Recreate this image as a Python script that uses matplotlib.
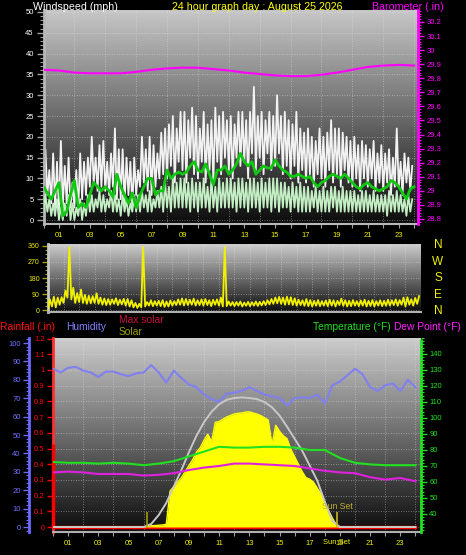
import numpy as np
import matplotlib
matplotlib.use('Agg')
import matplotlib.pyplot as plt
from matplotlib.ticker import MultipleLocator, FuncFormatter
import matplotlib.transforms as mtransforms

# ---------------- data ----------------
title = "24 hour graph day : August 25 2026"
hour_labels = ['01', '03', '05', '07', '09', '11', '13', '15', '17', '19', '21', '23']

# wind gust (mph), 15-minute low / high envelope
gust_hi = [17, 12, 16, 14, 19, 13, 15, 9, 12, 16, 14, 15, 20, 15, 18, 19,
           14, 16, 22, 17, 17, 15, 14, 15, 12, 20, 17, 20, 18, 16, 21, 22,
           23, 25, 22, 26, 26, 24, 27, 25, 22, 26, 23, 24, 27, 25, 26, 24,
           25, 23, 26, 26, 24, 26, 32, 25, 26, 24, 26, 25, 30, 25, 26, 24,
           23, 26, 22, 21, 22, 20, 19, 22, 20, 21, 24, 22, 22, 21, 20, 19,
           20, 18, 19, 18, 17, 19, 16, 18, 16, 17, 15, 22, 14, 16, 15, 13]
gust_lo = [8, 6, 4, 3, 2, 3, 4, 3, 3, 2, 5, 6, 8, 9, 7, 8,
           7, 6, 8, 5, 5, 4, 6, 3, 6, 8, 9, 7, 6, 8, 10, 11,
           10, 13, 9, 14, 12, 9, 15, 11, 10, 14, 9, 12, 9, 14, 11, 15,
           12, 10, 15, 13, 14, 10, 16, 12, 15, 11, 16, 12, 13, 16, 11, 13,
           10, 13, 9, 12, 9, 11, 8, 11, 10, 8, 12, 9, 11, 8, 12, 9,
           8, 10, 7, 10, 8, 10, 7, 9, 7, 9, 6, 8, 8, 6, 9, 7]
# wind speed (mph), 15-minute low / high envelope
wind_hi = [6, 5, 4, 5, 3, 4, 6, 4, 3, 5, 4, 6, 6, 5, 7, 6,
           5, 7, 6, 5, 6, 5, 4, 6, 6, 7, 6, 7, 5, 7, 8, 9,
           8, 10, 9, 10, 10, 9, 10, 9, 9, 10, 8, 10, 8, 10, 9, 10,
           10, 9, 10, 10, 9, 10, 10, 9, 10, 9, 10, 10, 10, 9, 9, 8,
           9, 8, 9, 8, 8, 7, 8, 7, 8, 7, 8, 8, 7, 8, 7, 7,
           7, 6, 7, 7, 6, 7, 6, 6, 6, 7, 6, 7, 6, 5, 6, 5]
wind_lo = [2, 2, 1, 1, 0, 0, 1, 0, 0, 1, 0, 1, 2, 2, 3, 2,
           2, 3, 2, 2, 1, 2, 1, 2, 2, 2, 3, 2, 2, 3, 3, 2,
           3, 2, 3, 3, 3, 3, 2, 3, 2, 3, 3, 2, 3, 2, 3, 3,
           3, 3, 2, 3, 3, 2, 3, 3, 2, 3, 3, 2, 3, 2, 3, 3,
           2, 3, 2, 2, 2, 2, 3, 2, 2, 2, 2, 3, 2, 2, 2, 2,
           2, 2, 2, 2, 2, 2, 2, 2, 2, 1, 2, 2, 2, 2, 1, 2]
# average wind speed (mph), every 15 minutes 00:00 .. 24:00
wind_avg = [8, 6.5, 5, 7, 9, 1, 2, 6, 9.5, 3, 4, 3, 6, 9, 8, 7,
            8, 7, 5.5, 11, 8, 6, 4, 6.5, 3, 6, 8, 10, 10, 6, 7, 7,
            12, 10, 11, 11.5, 11, 11.5, 13, 14, 12, 11.5, 13.5, 11, 8.5, 12, 12, 13,
            11, 12, 13.5, 16, 14, 13, 14, 11, 12, 13, 12.5, 12.5, 14.5, 13, 12, 11.5,
            10.5, 10.5, 11, 10.5, 10, 10.5, 9, 8, 9, 9.5, 10.5, 11, 10.5, 10, 11, 10,
            9, 8, 7.5, 8.5, 9, 8, 7.5, 7, 7.5, 8, 9.5, 9, 8, 6.5, 5, 7.5, 8]
# barometer (in), hourly 00 .. 24
baro = [29.86, 29.855, 29.84, 29.835, 29.835, 29.835, 29.845, 29.86, 29.87,
        29.875, 29.875, 29.865, 29.855, 29.84, 29.83, 29.82, 29.815, 29.815,
        29.825, 29.84, 29.86, 29.88, 29.89, 29.895, 29.89]

# wind direction (deg), 15-minute low / high envelope
dir_hi = [60, 75, 70, 72, 110, 355, 125, 95, 115, 85, 80, 78, 94, 70, 65, 62,
          60, 66, 58, 63, 62, 55, 40, 35, 355, 45, 55, 50, 52, 56, 48, 54,
          50, 60, 65, 62, 58, 64, 55, 60, 62, 55, 58, 60, 70, 355, 48, 45,
          45, 48, 42, 46, 44, 48, 46, 50, 55, 62, 70, 74, 70, 75, 72, 66,
          58, 55, 62, 56, 52, 56, 50, 54, 58, 55, 52, 64, 55, 52, 56, 50,
          54, 58, 52, 56, 50, 55, 52, 58, 55, 60, 56, 70, 72, 60, 68, 78]
dir_lo = [10, 20, 15, 30, 40, 70, 60, 40, 45, 40, 35, 38, 40, 35, 30, 28,
          30, 35, 28, 32, 25, 20, 15, 12, 15, 20, 25, 22, 25, 22, 18, 20,
          25, 28, 30, 26, 28, 30, 25, 28, 25, 28, 22, 30, 25, 20, 22, 25,
          22, 25, 20, 24, 22, 25, 23, 26, 28, 32, 35, 38, 35, 30, 32, 28,
          25, 28, 24, 22, 20, 24, 22, 25, 22, 25, 20, 28, 24, 20, 22, 25,
          22, 25, 20, 23, 20, 25, 22, 24, 25, 28, 24, 30, 20, 30, 25, 35]
compass = ['N', 'W', 'S', 'E', 'N']

# humidity (%), every 30 minutes
humidity = [86, 84, 86.5, 87, 85, 84, 81.5, 84.5, 84.5, 83, 82, 83.5, 84, 88, 84, 78.5,
            85, 81, 77.5, 76, 72, 69.5, 68, 72.5, 73, 74, 76, 74, 72, 71, 70, 66,
            70, 70.5, 70, 72, 67, 77, 79, 82.5, 86, 83, 76, 74, 77, 78, 74, 80, 76]
# temperature and dew point (F), hourly
temperature = [72.5, 72, 72, 71.5, 72, 71.5, 70.5, 71.5, 73, 76, 79, 82, 81.5,
               81.5, 82, 82, 81.5, 80, 80, 75, 72, 71, 70.5, 70.5, 70.5]
dew_point = [66, 66.5, 66, 65, 65, 65, 64, 64.5, 65.5, 67.5, 69, 70, 71.5,
             71.5, 71, 70.5, 70, 68.5, 67, 66, 65.5, 63, 61.5, 62.5, 60.5]
# rainfall (in), every 30 minutes, and the rain bar drawn at the axis
rainfall = [0.0] * 49
rain_bar = 0.53
# solar radiation (W/m2), every 15 minutes
solar = ([0] * 24 +
         [0, 5, 8, 10, 12, 14, 18, 240, 270, 300, 330, 370, 410, 450, 500, 530,
          580, 620, 570, 700, 705, 720, 735, 745, 755, 760, 762, 768, 770, 762, 755, 745,
          730, 715, 550, 680, 640, 610, 590, 520, 470, 420, 370, 330, 320, 300, 260, 220,
          160, 110, 60, 15, 0] +
         [0] * 20)
# maximum solar (W/m2), every 30 minutes
max_solar = ([0] * 12 +
             [0, 20, 80, 160, 270, 380, 500, 610, 700, 770, 820, 850, 862, 866,
              862, 855, 835, 800, 745, 670, 590, 510, 410, 310, 170, 40, 0, 0] +
             [0] * 9)
sunrise = 6.2
sunset = 18.8

# ---------------- figure ----------------
plt.rcParams['font.family'] = ['Liberation Sans', 'DejaVu Sans']

W, H = 466, 555
fig = plt.figure(figsize=(W / 100, H / 100), dpi=100)
fig.patch.set_facecolor('black')


def px_axes(x0, y0, x1, y1):
    return fig.add_axes([x0 / W, 1 - y1 / H, (x1 - x0) / W, (y1 - y0) / H])


def ftext(x, y, s, color, size, ha='left', va='center'):
    fig.text(x / W, 1 - y / H, s, color=color, fontsize=size, ha=ha, va=va)


def gradient(ax, top=0.78, bottom=0.05):
    g = np.linspace(bottom, top, 256).reshape(-1, 1)
    ax.imshow(g, extent=[0, 1, 0, 1], transform=ax.transAxes, origin='lower',
              aspect='auto', cmap='gray', vmin=0, vmax=1, zorder=0,
              interpolation='bilinear')


def zigzag(lo, hi, step):
    n = len(lo)
    base = np.arange(n) * step
    t = np.empty(2 * n)
    v = np.empty(2 * n)
    t[0::2] = base
    t[1::2] = base + step / 2
    v[0::2] = lo
    v[1::2] = hi
    return t, v


def only_spine(ax, name, color, lw=1.5, ls='-'):
    for k, sp in ax.spines.items():
        sp.set_visible(k == name)
    ax.spines[name].set_color(color)
    ax.spines[name].set_linewidth(lw)
    ax.spines[name].set_linestyle(ls)


gfmt = FuncFormatter(lambda v, _: f'{v:g}')
hour_pos = [int(h) for h in hour_labels]
GRID = dict(color='#e8e8e8', ls=(0, (1, 2)), lw=0.6, alpha=0.55)

# ---- top panel: wind speed + barometer ----
ax1 = px_axes(43.5, 10, 418, 224)
ax1.set_facecolor('black')
gradient(ax1)
t, v = zigzag(gust_lo, gust_hi, 0.25)
ax1.plot(t, v, color='#f2f2f2', lw=1.3, zorder=2)
t, v = zigzag(wind_lo, wind_hi, 0.25)
ax1.plot(t, v, color='#c4efc4', lw=1.3, zorder=3)
ax1.plot(np.arange(len(wind_avg)) * 0.25, wind_avg, color='#10c810', lw=2, zorder=4)
ax1.set_xlim(0, 24.25)
ax1.set_ylim(-0.96, 50.48)
ax1.set_yticks(np.arange(0, 51, 5))
ax1.yaxis.set_minor_locator(MultipleLocator(1))
ax1.set_xticks(hour_pos, hour_labels)
ax1.xaxis.set_minor_locator(MultipleLocator(1))
ax1.tick_params(axis='y', which='major', colors='#a0a0a0', labelcolor='white',
                labelsize=5.5, length=5, width=1, pad=2)
ax1.tick_params(axis='y', which='minor', colors='#a0a0a0', length=3, width=0.8)
ax1.tick_params(axis='x', which='both', colors='#a0a0a0', labelcolor='#f0f000',
                labelsize=5.5, length=3, width=0.8, pad=3)
ax1.grid(True, which='major', axis='y', **GRID)
ax1.grid(True, which='minor', axis='x', **GRID)
for k in ('top', 'right'):
    ax1.spines[k].set_visible(False)
ax1.spines['left'].set_color('#b8b8b8')
ax1.spines['left'].set_linewidth(2)
ax1.spines['bottom'].set_color('#b8b8b8')
ax1.spines['bottom'].set_linewidth(1.5)

ax1b = ax1.twinx()
ax1b.plot(np.arange(len(baro)), baro, color='#ff00ff', lw=1.5, zorder=5)
ax1b.set_ylim(28.764, 30.285)
ax1b.set_yticks(np.round(np.arange(28.8, 30.21, 0.1), 1))
ax1b.yaxis.set_major_formatter(gfmt)
ax1b.yaxis.set_minor_locator(MultipleLocator(0.02))
ax1b.tick_params(axis='y', which='major', colors='#ff00ff', labelcolor='#ff00ff',
                 labelsize=5.5, length=4, width=1, pad=2)
ax1b.tick_params(axis='y', which='minor', colors='#ff00ff', length=2, width=0.8)
only_spine(ax1b, 'right', '#ff00ff', lw=2, ls=(0, (1, 1)))

ftext(33, 6.5, 'Windspeed (mph)', 'white', 7.7)
ftext(172, 6.5, title, '#ffff00', 7.7)
ftext(372, 6.5, 'Barometer (.in)', '#ff00ff', 7.7)

# ---- middle panel: wind direction ----
ax2 = px_axes(48, 244, 421, 312)
ax2.set_facecolor('black')
gradient(ax2, top=0.8, bottom=0.05)
t, v = zigzag(dir_lo, dir_hi, 0.25)
ax2.plot(t, v, color='#f0f000', lw=1.3, zorder=3)
ax2.set_xlim(0, 24)
ax2.set_ylim(-11, 371)
ax2.set_yticks([0, 90, 180, 270, 360])
ax2.yaxis.set_minor_locator(MultipleLocator(22.5))
ax2.set_xticks([])
ax2.xaxis.set_minor_locator(MultipleLocator(1))
ax2.tick_params(axis='x', which='minor', length=0)
ax2.tick_params(axis='y', which='major', colors='#a0a000', labelcolor='#f0f000',
                labelsize=5, length=4, width=1, pad=2)
ax2.tick_params(axis='y', which='minor', colors='#a0a000', length=2, width=0.8)
ax2.grid(True, which='major', axis='y', **GRID)
ax2.grid(True, which='minor', axis='x', **GRID)
for k in ('top', 'right'):
    ax2.spines[k].set_visible(False)
ax2.spines['left'].set_color('#c8c8c8')
ax2.spines['left'].set_linewidth(2)
ax2.spines['bottom'].set_color('#b0b0b0')
ax2.spines['bottom'].set_linewidth(1.5)
for i, c in enumerate(compass):
    ftext(438, 245 + i * 16.5, c, '#f0f000', 8.5, ha='center')

# ---- bottom panel: rain / humidity / solar / temperature ----
ftext(0, 327, 'Rainfall (.in)', '#ff1010', 7.4)
ftext(66, 327, 'Humidity', '#8080ff', 7.4)
ftext(119, 320, 'Max solar', '#c81040', 7.4)
ftext(119, 332, 'Solar', '#a0a000', 7.4)
ftext(313, 327, 'Temperature (°F)', '#20e020', 7.4)
ftext(394, 327, 'Dew Point (°F)', '#ff20ff', 7.4)

ax3 = px_axes(53, 338, 421, 532)
ax3.set_facecolor('black')
gradient(ax3, top=0.8, bottom=0.05)
ax3.plot(np.arange(len(rainfall)) * 0.5, rainfall, color='#ff0000', lw=2.5, zorder=3)
ax3.vlines(0, 0, rain_bar, color='#ff0000', lw=2.5, clip_on=False, zorder=4)
ax3.set_xlim(0, 24.37)
ax3.set_ylim(-0.0318, 1.2038)
ax3.set_yticks(np.round(np.arange(0, 1.21, 0.1), 1))
ax3.yaxis.set_major_formatter(gfmt)
ax3.set_xticks(hour_pos, hour_labels)
ax3.xaxis.set_minor_locator(MultipleLocator(1))
ax3.tick_params(axis='y', which='major', colors='#ff0000', labelcolor='#ff0000',
                labelsize=5.5, length=4, width=1, pad=2)
ax3.tick_params(axis='x', which='both', colors='#a0a0a0', labelcolor='#f0f000',
                labelsize=5.5, length=3, width=0.8, pad=3)
ax3.grid(True, which='major', axis='y', **GRID)
ax3.grid(True, which='minor', axis='x', **GRID)
for k in ('top', 'right'):
    ax3.spines[k].set_visible(False)
ax3.spines['left'].set_color('#ff3030')
ax3.spines['left'].set_linewidth(2)
ax3.spines['left'].set_linestyle((0, (2, 1)))
ax3.spines['bottom'].set_color('#b0b0b0')
ax3.spines['bottom'].set_linewidth(1.5)
ax3.text(sunset, -10 / 194, 'Sun Set', color='#f0f000', fontsize=5.5,
         ha='center', va='center', clip_on=False,
         transform=mtransforms.blended_transform_factory(ax3.transData, ax3.transAxes))

ax3s = ax3.twinx()
t_sol = np.arange(len(solar)) * 0.25
ax3s.fill_between(t_sol, solar, color='#ffff00', lw=0, zorder=2)
ax3s.plot(t_sol, solar, color='#ffff00', lw=1, zorder=2)
ax3s.plot(np.arange(len(max_solar)) * 0.5, max_solar, color='#c8c8c8', lw=1.4, zorder=3)
ax3s.vlines([sunrise, sunset], 0, 100, colors=['#a0a000', '#c8b820'], lw=1.2, zorder=4)
ax3s.text(sunset, 134, 'Sun Set', color='#c0b030', fontsize=6.2, ha='center', va='center')
ax3s.set_ylim(-33.4, 1263)
ax3s.axis('off')

ax3t = ax3.twinx()
ax3t.plot(np.arange(len(temperature)), temperature, color='#20e020', lw=1.5, zorder=3)
ax3t.plot(np.arange(len(dew_point)), dew_point, color='#e020e0', lw=1.5, zorder=3)
ax3t.set_ylim(28.75, 150)
ax3t.set_yticks(np.arange(40, 141, 10))
ax3t.yaxis.set_minor_locator(MultipleLocator(2))
ax3t.tick_params(axis='y', which='major', colors='#20e020', labelcolor='#20e020',
                 labelsize=5.5, length=4, width=1, pad=2)
ax3t.tick_params(axis='y', which='minor', colors='#20e020', length=2, width=0.8)
only_spine(ax3t, 'right', '#20e020', lw=2, ls=(0, (1, 1)))

ax3h = ax3.twinx()
ax3h.plot(np.arange(len(humidity)) * 0.5, humidity, color='#8080f0', lw=1.5, zorder=3)
ax3h.set_ylim(-2.717, 102.72)
ax3h.yaxis.tick_left()
ax3h.set_yticks(np.arange(0, 101, 10))
ax3h.yaxis.set_minor_locator(MultipleLocator(2))
ax3h.tick_params(axis='y', which='major', colors='#6a6aff', labelcolor='#7070ff',
                 labelsize=5.5, length=4, width=1, pad=2)
ax3h.tick_params(axis='y', which='minor', colors='#6a6aff', length=2, width=0.8)
only_spine(ax3h, 'left', '#6a6aff', lw=2)
ax3h.spines['left'].set_position(('outward', 24 * 0.72))

fig.savefig('out.png', dpi=100, facecolor='black')
